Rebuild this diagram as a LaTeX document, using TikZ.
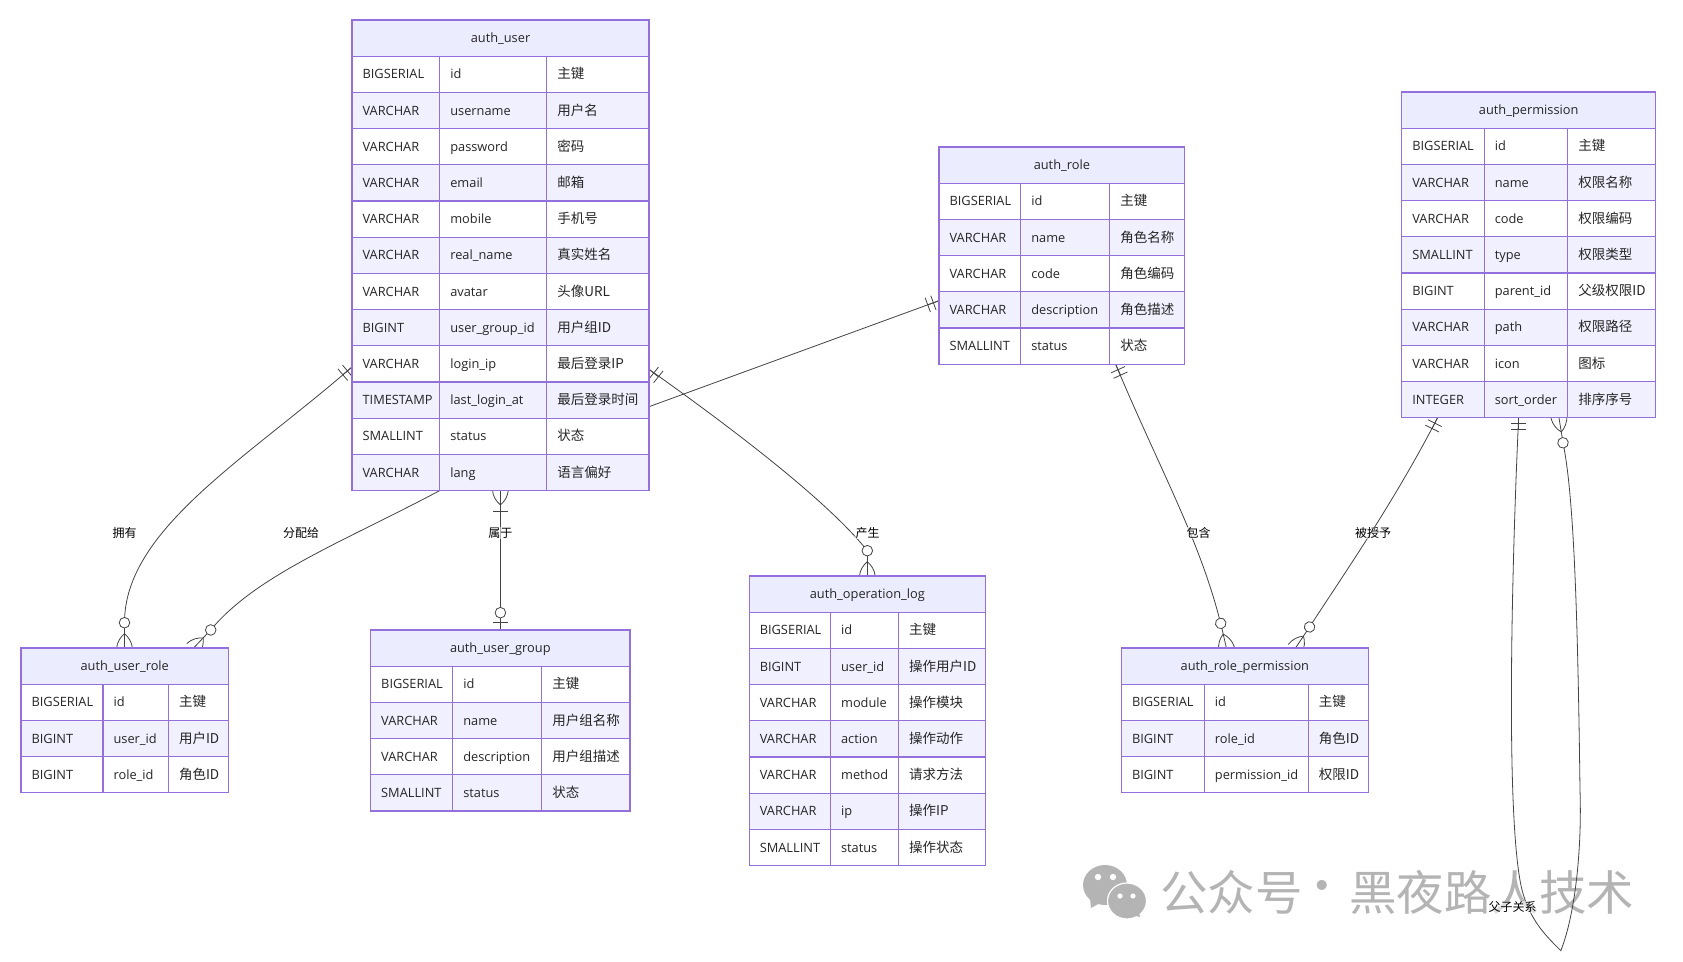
\documentclass[tikz,border=0pt]{standalone}
\usepackage{fontspec}
\setmainfont{Open Sans}
\newfontfamily\cjk{Noto Sans CJK SC}
\usetikzlibrary{calc}
\pgfdeclarelayer{background}
\pgfsetlayers{background,main}
\definecolor{erline}{HTML}{9370DB}
\definecolor{erhead}{HTML}{ECECFF}
\definecolor{eralt}{HTML}{F0F0FF}
\definecolor{eredge}{HTML}{444444}
\definecolor{wmgray}{HTML}{B4B4B4}
\tikzset{
 frame/.style={rectangle,inner sep=0pt,outer sep=0pt,anchor=north west},
 cell/.style={frame,draw=erline,line width=1.3pt,minimum height=36.2pt,inner xsep=10.6pt,
   align=left,text height=11pt,text depth=2pt,font=\fontsize{12.8}{16}\selectfont,text=black!85},
 headcell/.style={cell,fill=erhead,inner xsep=0pt,align=center},
 edge/.style={draw=eredge,line width=0.8pt},
 lab/.style={font=\cjk\fontsize{12}{14}\selectfont,inner sep=0.5pt,fill=white,fill opacity=0.55,text opacity=1,text=black},
 wmark/.style={font=\cjk\fontsize{47.5}{50}\selectfont,text=wmgray,inner sep=0pt},
}
% id, x0,x1,x2,x3, ytop, nrows, title, rows
\newcommand{\ertable}[9]{%
 \pgfmathsetmacro{\tw}{#5-#2}\pgfmathsetmacro{\th}{36.2*(#7+1)}
 \node[frame,minimum width=\tw pt,minimum height=\th pt] (#1) at (#2,#6) {};
 \node[headcell,minimum width=\tw pt,text width=\tw pt] (#1-h) at (#2,#6) {#8};
 \foreach \a/\b/\c [count=\i] in {#9}{
   \pgfmathsetmacro{\yy}{#6+36.2*\i}
   \pgfmathtruncatemacro{\ev}{mod(\i,2)}
   \ifnum\ev=0 \def\rowfill{eralt}\else \def\rowfill{white}\fi
   \pgfmathsetmacro{\wa}{#3-#2}\pgfmathsetmacro{\wb}{#4-#3}\pgfmathsetmacro{\wc}{#5-#4}
   \pgfmathsetmacro{\ta}{\wa-21.2}\pgfmathsetmacro{\tb}{\wb-21.2}\pgfmathsetmacro{\tc}{\wc-21.2}
   \node[cell,fill=\rowfill,minimum width=\wa pt,text width=\ta pt] (#1-\i-t) at (#2,\yy) {\a};
   \node[cell,fill=\rowfill,minimum width=\wb pt,text width=\tb pt] (#1-\i-n) at (#3,\yy) {\b};
   \node[cell,fill=\rowfill,minimum width=\wc pt,text width=\tc pt] (#1-\i-c) at (#4,\yy) {\cjk\fontsize{13.5}{16}\selectfont\c};
 }
}
\newcommand{\crowpart}{%
 \draw[edge] (0,0)--(0,20);
 \draw[edge] (-8,-1) .. controls (-7.5,6) and (-4,11) .. (0,14.3);
 \draw[edge] (8,-1) .. controls (7.5,6) and (4,11) .. (0,14.3);
}
\newcommand{\zeromany}[2]{\begin{scope}[x=1pt,y=1pt,shift={#1},rotate=#2]
 \crowpart \draw[edge,fill=white] (0,25.3) circle (5.3pt);\end{scope}}
\newcommand{\onemany}[2]{\begin{scope}[x=1pt,y=1pt,shift={#1},rotate=#2]
 \crowpart \draw[edge] (-7.6,20.3)--(7.6,20.3);\end{scope}}
\newcommand{\zeroone}[2]{\begin{scope}[x=1pt,y=1pt,shift={#1},rotate=#2]
 \draw[edge] (0,0)--(0,12); \draw[edge] (-7.6,7.3)--(7.6,7.3);
 \draw[edge,fill=white] (0,17.3) circle (5.3pt);\end{scope}}
\newcommand{\oneone}[2]{\begin{scope}[x=1pt,y=1pt,shift={#1},rotate=#2]
 \draw[edge] (0,0)--(0,12);
 \draw[edge] (-7.6,6)--(7.6,6); \draw[edge] (-7.6,12)--(7.6,12);\end{scope}}
\begin{document}
\begin{tikzpicture}[x=1pt,y=-1pt]
\useasboundingbox (0,0) rectangle (1683,961);

\ertable{user}{352}{439.7}{546.7}{649}{20}{12}{auth\_user}{BIGSERIAL/id/主键,VARCHAR/username/用户名,VARCHAR/password/密码,VARCHAR/email/邮箱,VARCHAR/mobile/手机号,VARCHAR/real\_name/真实姓名,VARCHAR/avatar/头像URL,BIGINT/user\_group\_id/用户组ID,VARCHAR/login\_ip/最后登录IP,TIMESTAMP/last\_login\_at/最后登录时间,SMALLINT/status/状态,VARCHAR/lang/语言偏好}

\ertable{role}{939}{1020.7}{1109.7}{1184.7}{147}{5}{auth\_role}{BIGSERIAL/id/主键,VARCHAR/name/角色名称,VARCHAR/code/角色编码,VARCHAR/description/角色描述,SMALLINT/status/状态}

\ertable{perm}{1401.7}{1484.2}{1567.7}{1655.7}{92}{8}{auth\_permission}{BIGSERIAL/id/主键,VARCHAR/name/权限名称,VARCHAR/code/权限编码,SMALLINT/type/权限类型,BIGINT/parent\_id/父级权限ID,VARCHAR/path/权限路径,VARCHAR/icon/图标,INTEGER/sort\_order/排序序号}

\ertable{urole}{21}{103}{168.4}{228.5}{648}{3}{auth\_user\_role}{BIGSERIAL/id/主键,BIGINT/user\_id/用户ID,BIGINT/role\_id/角色ID}

\ertable{ugroup}{370.6}{452.7}{541.7}{630}{630}{4}{auth\_user\_group}{BIGSERIAL/id/主键,VARCHAR/name/用户组名称,VARCHAR/description/用户组描述,SMALLINT/status/状态}

\ertable{oplog}{749.2}{830.5}{898.5}{985.5}{576}{7}{auth\_operation\_log}{BIGSERIAL/id/主键,BIGINT/user\_id/操作用户ID,VARCHAR/module/操作模块,VARCHAR/action/操作动作,VARCHAR/method/请求方法,VARCHAR/ip/操作IP,SMALLINT/status/操作状态}

\ertable{rperm}{1121.4}{1204.3}{1308.3}{1368.4}{648}{3}{auth\_role\_permission}{BIGSERIAL/id/主键,BIGINT/role\_id/角色ID,BIGINT/permission\_id/权限ID}

% connector ends
\coordinate (c1) at (124.5,622.7);
\coordinate (c2) at (210.7,630);
\coordinate (c3) at (867.3,550.7);
\coordinate (c4) at (1220.8,624);
\coordinate (c5) at (1309.3,627.3);
\coordinate (c6) at (1563,443);
\coordinate (loop) at (1560.8,950.7);

\node[lab] (l1) at (124.5,533) {拥有};
\node[lab] (l2) at (301,533) {分配给};
\node[lab] (l3) at (500.4,533) {属于};
\node[lab] (l4) at (867.7,533) {产生};
\node[lab] (l5) at (1198.5,533) {包含};
\node[lab] (l6) at (1373,533) {被授予};
\node[lab] (l7) at (1512.7,907) {父子关系};

\begin{pgfonlayer}{background}
\fill[white] (0,0) rectangle (1683,961);
% watermark
\node[wmark,anchor=west] (wma) at (1160,892) {公众号};
\node[wmark] (wmb) at (1322,892) {·};
\node[wmark,anchor=west] (wmc) at (1349,892) {黑夜路人技术};
\fill[wmgray] (1105,885) ellipse (22pt and 20pt);
\fill[wmgray] (1090,898)--(1091,908)--(1102,902)--cycle;
\fill[wmgray,draw=white,line width=1.2pt] (1127,901) ellipse (19.5pt and 18pt);
\fill[wmgray] (1132,915)--(1140,917)--(1138,908)--cycle;
\fill[white] (1098,877) circle (3.2pt) (1113,877) circle (3.2pt) (1120,896) circle (2.6pt) (1133,896) circle (2.6pt);

% connectors
\draw[edge] ([yshift=123.6pt]user.south west) .. controls (245,460) and (124.5,530) .. (c1);
\draw[edge] ([xshift=87.7pt]user.south west) .. controls (345,541) and (256,575) .. (c2);
\draw[edge] ([xshift=148.4pt]user.south west) -- ([xshift=129.8pt]ugroup.north west);
\draw[edge] ([yshift=121.3pt]user.south east) .. controls (760,448) and (835,510) .. (c3);
\draw[edge] ([yshift=83.9pt]user.south east) -- ([yshift=-153.7pt]role.north west);
\draw[edge] ([xshift=176.6pt]role.south west) .. controls (1160,470) and (1200,540) .. (c4);
\draw[edge] ([xshift=35.8pt]perm.south west) .. controls (1395,500) and (1350,565) .. (c5);
\draw[edge] ([xshift=116.9pt]perm.south west) .. controls (1512,560) and (1505,820) .. (1522,890) .. controls (1530,920) and (1545,935) .. (loop)
  .. controls (1575,915) and (1582,850) .. (1580,790) .. controls (1578,640) and (1575,500) .. (c6);

% markers
\oneone{([yshift=123.6pt]user.south west)}{130}
\zeromany{([xshift=103.5pt]urole.north west)}{0}
\zeromany{([xshift=172.3pt,yshift=-0.3pt]urole.north west)}{-43.5}
\onemany{([xshift=148.4pt]user.south west)}{180}
\zeroone{([xshift=129.8pt]ugroup.north west)}{0}
\oneone{([yshift=121.3pt]user.south east)}{-128.7}
\zeromany{([xshift=118.1pt]oplog.north west)}{0}
\oneone{([yshift=-153.7pt]role.north west)}{110.3}
\oneone{([xshift=176.6pt]role.south west)}{-155.8}
\zeromany{([xshift=105pt]rperm.north west)}{13}
\oneone{([xshift=35.8pt]perm.south west)}{153.4}
\zeromany{([xshift=174.1pt]rperm.north west)}{-33.7}
\oneone{([xshift=116.9pt]perm.south west)}{180}
\zeromany{([xshift=157.3pt]perm.south west)}{-170.9}
\end{pgfonlayer}
\end{tikzpicture}
\end{document}
